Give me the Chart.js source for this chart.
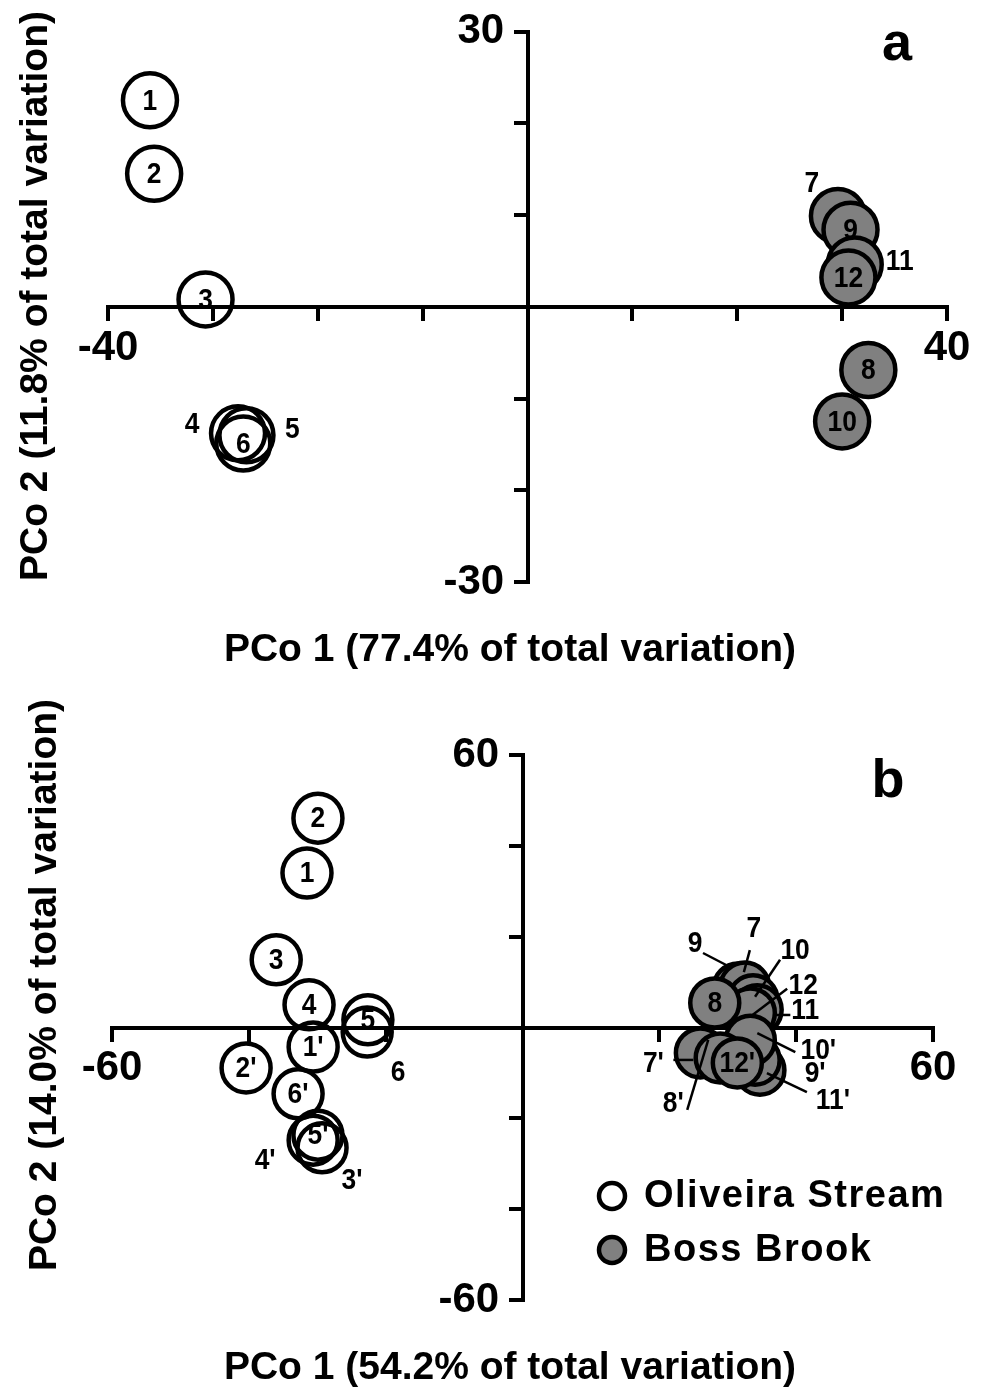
<!DOCTYPE html>
<html>
<head>
<meta charset="utf-8">
<script src="https://cdn.jsdelivr.net/npm/chart.js@4.4.0/dist/chart.umd.min.js"></script>
<style>
  html, body { margin: 0; padding: 0; background: #fff; }
  #wrap { position: relative; width: 988px; height: 1393px; }
  canvas { position: absolute; left: 0; }
  #chartA { top: 0; }
  #chartB { top: 690px; }
</style>
</head>
<body>
<div id="wrap">
  <canvas id="chartA" width="988" height="690"></canvas>
  <canvas id="chartB" width="988" height="703"></canvas>
</div>
<script>
// panel a: PCo scores
const oliveiraA_names = ['1', '2', '3', '4', '5', '6'];
const oliveiraA_x = [-36.0, -35.6, -30.7, -27.6, -26.8, -27.1];
const oliveiraA_y = [22.5, 14.5, 0.8, -13.8, -14.0, -14.9];

const bossA_names = ['7', '9', '11', '12', '8', '10'];
const bossA_x = [29.6, 30.8, 31.2, 30.6, 32.5, 30.0];
const bossA_y = [9.9, 8.4, 4.6, 3.2, -6.9, -12.5];

// panel b
const oliveiraB_names = ['2', '1', '3', '6', '5', '4', "1'", "2'", "3'", "4'", "5'", "6'"];
const oliveiraB_x = [-29.9, -31.5, -36.0, -22.7, -22.6, -31.2, -30.6, -40.4, -29.3, -30.6, -29.9, -32.8];
const oliveiraB_y = [46.1, 34.0, 14.9, -1.0, 1.7, 5.0, -4.3, -8.9, -26.5, -24.8, -23.7, -14.6];

const bossB_names = ['9', '7', '10', '12', '11', '8', "11'", "9'", "10'", "7'", "8'", "12'"];
const bossB_x = [31.5, 32.5, 33.7, 34.3, 33.3, 28.1, 34.7, 34.0, 33.3, 26.0, 28.9, 31.4];
const bossB_y = [8.7, 8.9, 6.1, 3.9, 3.2, 5.4, -9.4, -7.2, -2.8, -5.6, -6.7, -7.8];

const seriesNames = ['Oliveira Stream', 'Boss Brook'];

// label placement (pixel offsets from the point, optional leader line)
const labelsA = {
  '7': { dx: -26, dy: -33 },
  '11': { dx: 45, dy: -4 },
  '4': { dx: -46, dy: -10 },
  '5': { dx: 46, dy: -6 }
};
const labelsB = {
  '6': { dx: 31, dy: 40 },
  "4'": { dx: -48, dy: 20 },
  "3'": { dx: 30, dy: 32 },
  '9': { dx: -43, dy: -45, line: [-35, -35, -8, -21] },
  '7': { dx: 9, dy: -59, line: [5, -37, -1, -15] },
  '10': { dx: 42, dy: -50, line: [27, -40, 2, -3] },
  '12': { dx: 46, dy: -25, line: [30, -21, -7, 7] },
  '11': { dx: 55, dy: -3, line: [40, 2, 23, 2] },
  "10'": { dx: 68, dy: 10, line: [45, 12, 7, -7] },
  "9'": { dx: 60, dy: 13 },
  "11'": { dx: 73, dy: 30, line: [47, 22, 7, 3] },
  "7'": { dx: -47, dy: 10, line: [-27, 7, -7, 7] },
  "8'": { dx: -47, dy: 45, line: [-33, 52, -12, -18] }
};

const FONT = "'Liberation Sans', Arial, sans-serif";
const GRAY = '#808080';

function points(xs, ys) {
  return xs.map(function(x, i) { return { x: x, y: ys[i] }; });
}

const annotate = {
  id: 'annotate',
  afterDatasetsDraw(chart, args, opts) {
    const ctx = chart.ctx;
    ctx.save();
    ctx.fillStyle = '#000';
    ctx.strokeStyle = '#000';
    ctx.textAlign = 'center';
    ctx.textBaseline = 'middle';
    ctx.font = 'bold ' + opts.labelSize + 'px ' + FONT;
    chart.data.datasets.forEach(function(ds, di) {
      const meta = chart.getDatasetMeta(di);
      meta.data.forEach(function(pt, i) {
        const name = ds.names[i];
        const st = opts.labels[name] || { dx: 0, dy: 0 };
        if (st.line) {
          ctx.lineWidth = 2.5;
          ctx.beginPath();
          ctx.moveTo(pt.x + st.line[0], pt.y + st.line[1]);
          ctx.lineTo(pt.x + st.line[2], pt.y + st.line[3]);
          ctx.stroke();
        }
        // slightly condensed digits, like the original
        ctx.save();
        ctx.translate(pt.x + st.dx, pt.y + st.dy + 1);
        ctx.scale(0.88, 1);
        ctx.fillText(name, 0, 0);
        ctx.restore();
      });
    });
    ctx.restore();
  },
  afterDraw(chart, args, opts) {
    const ctx = chart.ctx;
    ctx.save();
    ctx.fillStyle = '#000';
    ctx.textAlign = 'center';
    ctx.textBaseline = 'middle';
    ctx.font = 'bold 39px ' + FONT;
    ctx.fillText(opts.xTitle.text, opts.xTitle.x, opts.xTitle.y);
    ctx.save();
    ctx.translate(opts.yTitle.x, opts.yTitle.y);
    ctx.rotate(-Math.PI / 2);
    ctx.fillText(opts.yTitle.text, 0, 0);
    ctx.restore();

    ctx.font = 'bold 54px ' + FONT;
    ctx.textBaseline = 'alphabetic';
    ctx.fillText(opts.letter.text, opts.letter.x, opts.letter.y);

    if (opts.legend) {
      const lg = opts.legend;
      ctx.font = 'bold 38px ' + FONT;
      ctx.letterSpacing = '1.5px';
      ctx.textAlign = 'left';
      ctx.textBaseline = 'middle';
      chart.data.datasets.forEach(function(ds, di) {
        const y = lg.y + di * lg.gap;
        ctx.beginPath();
        ctx.arc(lg.x, y, 13, 0, Math.PI * 2);
        ctx.fillStyle = ds.legendColor;
        ctx.fill();
        ctx.lineWidth = 4.5;
        ctx.strokeStyle = '#000';
        ctx.stroke();
        ctx.fillStyle = '#000';
        ctx.fillText(ds.label, lg.x + 32, y + 1);
      });
    }
    ctx.restore();
  }
};

function axis(min, max, step, pos, pad) {
  return {
    type: 'linear',
    min: min,
    max: max,
    position: pos,
    ticks: {
      stepSize: step,
      autoSkip: false,
      maxRotation: 0,
      padding: 4,
      color: '#000',
      font: { family: FONT, size: 42, weight: 'bold' },
      // only the end values are labelled; trailing spaces keep y labels off the axis
      callback: function(v) { return (v === min || v === max) ? v + pad : ''; }
    },
    grid: {
      display: true,
      drawOnChartArea: false,
      drawTicks: true,
      tickLength: 12,
      lineWidth: 4,
      color: '#000'
    },
    border: { display: true, color: '#000', width: 4 }
  };
}

function makeChart(id, cfg) {
  return new Chart(document.getElementById(id), {
    type: 'scatter',
    data: {
      datasets: [{
        label: seriesNames[0],
        names: cfg.oNames,
        data: points(cfg.oX, cfg.oY),
        backgroundColor: 'rgba(255,255,255,0)',
        legendColor: '#ffffff',
        borderColor: '#000',
        borderWidth: 4.5,
        pointRadius: cfg.radius,
        pointHoverRadius: cfg.radius,
        clip: false
      }, {
        label: seriesNames[1],
        names: cfg.bNames,
        data: points(cfg.bX, cfg.bY),
        backgroundColor: GRAY,
        legendColor: GRAY,
        borderColor: '#000',
        borderWidth: 4.5,
        pointRadius: cfg.radius,
        pointHoverRadius: cfg.radius,
        clip: false
      }]
    },
    options: {
      responsive: false,
      animation: false,
      layout: { padding: cfg.padding },
      scales: {
        x: axis(-cfg.xMax, cfg.xMax, cfg.xStep, { y: 0 }, ''),
        y: axis(-cfg.yMax, cfg.yMax, cfg.yStep, { x: 0 }, '  ')
      },
      plugins: {
        legend: { display: false },
        tooltip: { enabled: false },
        annotate: cfg.annotate
      }
    },
    plugins: [annotate]
  });
}

makeChart('chartA', {
  oNames: oliveiraA_names, oX: oliveiraA_x, oY: oliveiraA_y,
  bNames: bossA_names, bX: bossA_x, bY: bossA_y,
  radius: 27,
  xMax: 40, xStep: 10, yMax: 30, yStep: 10,
  padding: { left: 108, right: 41, top: 27, bottom: 108 },
  annotate: {
    labels: labelsA,
    labelSize: 30,
    xTitle: { text: 'PCo 1 (77.4% of total variation)', x: 510, y: 650 },
    yTitle: { text: 'PCo 2 (11.8% of total variation)', x: 36, y: 296 },
    letter: { text: 'a', x: 897, y: 60 }
  }
});

makeChart('chartB', {
  oNames: oliveiraB_names, oX: oliveiraB_x, oY: oliveiraB_y,
  bNames: bossB_names, bX: bossB_x, bY: bossB_y,
  radius: 24.5,
  xMax: 60, xStep: 20, yMax: 60, yStep: 20,
  padding: { left: 112, right: 55, top: 65, bottom: 93 },
  annotate: {
    labels: labelsB,
    labelSize: 30,
    xTitle: { text: 'PCo 1 (54.2% of total variation)', x: 510, y: 678 },
    yTitle: { text: 'PCo 2 (14.0% of total variation)', x: 45, y: 295 },
    letter: { text: 'b', x: 888, y: 107 },
    legend: { x: 612, y: 506, gap: 54 }
  }
});
</script>
</body>
</html>
